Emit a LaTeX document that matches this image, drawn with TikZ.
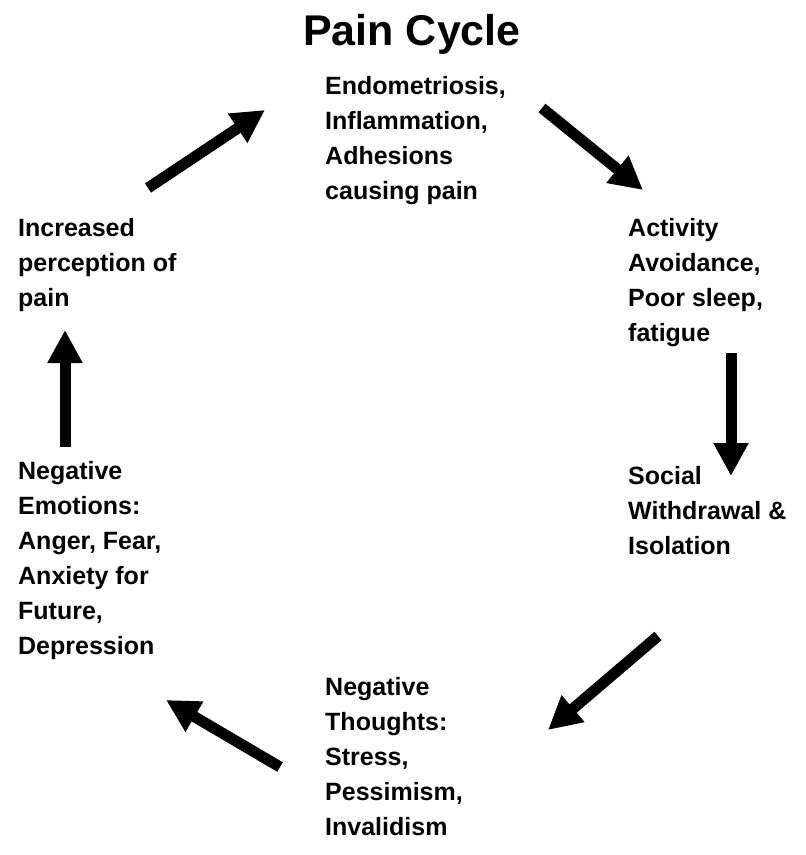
\documentclass[tikz,border=0pt]{standalone}
\usepackage{fontspec}
\setmainfont{Liberation Sans}
\usetikzlibrary{arrows.meta}
\tikzset{
	stage/.style={anchor=north west,inner sep=0pt,align=left,font=\fontsize{25}{35}\selectfont\bfseries},
	flow/.style={line width=11pt,-{Triangle[length=33pt,width=33pt]}}
}
\begin{document}
\begin{tikzpicture}[x=1pt,y=-1pt]
		\useasboundingbox (0,0) rectangle (806,855);
		\node[anchor=base,font=\fontsize{43}{50}\selectfont\bfseries] (title) at (412,45) {Pain Cycle};
		\node[stage] (pain) at (325,76) {Endometriosis,\\Inflammation,\\Adhesions\\causing pain};
		\node[stage] (avoid) at (628,218) {Activity\\Avoidance,\\Poor sleep,\\fatigue};
		\node[stage] (social) at (628,466) {Social\\Withdrawal \&\\Isolation};
		\node[stage] (thoughts) at (325,677) {Negative\\Thoughts:\\Stress,\\Pessimism,\\Invalidism};
		\node[stage] (emotions) at (18,461) {Negative\\Emotions:\\Anger, Fear,\\Anxiety for\\Future,\\Depression};
		\node[stage] (percept) at (18,218) {Increased\\perception of\\pain};
		\coordinate (A1) at (148,188);
		\coordinate (A2) at (265,110);
		\coordinate (B1) at (542,108);
		\coordinate (B2) at (643,190);
		\coordinate (C1) at (731,353);
		\coordinate (C2) at (731,476);
		\coordinate (D1) at (658,636);
		\coordinate (D2) at (548,730);
		\coordinate (E1) at (280,767);
		\coordinate (E2) at (166,700);
		\coordinate (F1) at (65,447);
		\coordinate (F2) at (65,330);
		\draw[flow] (A1) -- (A2);
		\draw[flow] (B1) -- (B2);
		\draw[flow] (C1) -- (C2);
		\draw[flow] (D1) -- (D2);
		\draw[flow] (E1) -- (E2);
		\draw[flow] (F1) -- (F2);
	\end{tikzpicture}
\end{document}
